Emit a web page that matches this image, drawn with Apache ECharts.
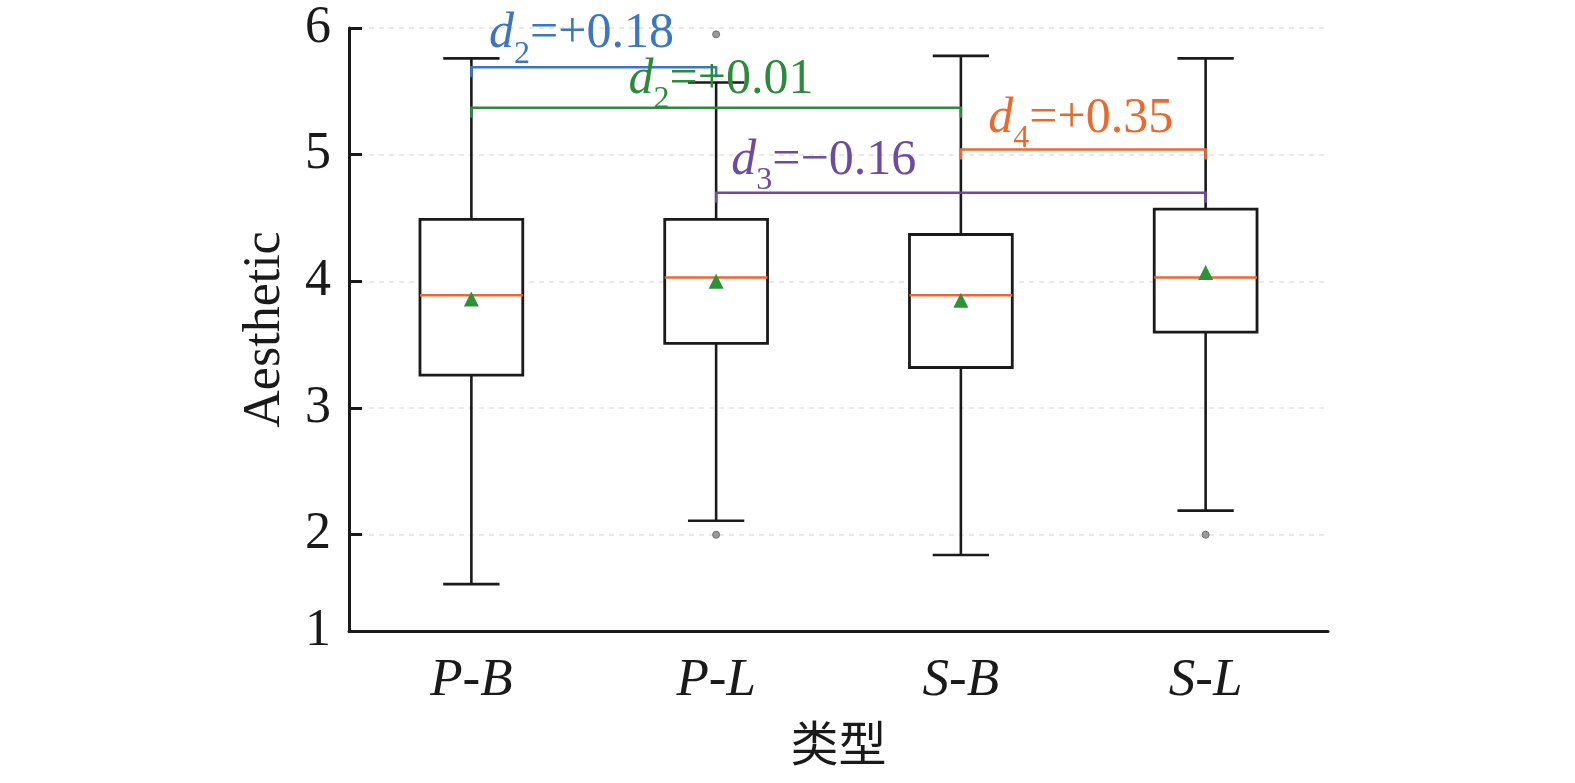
<!DOCTYPE html>
<html>
<head>
<meta charset="utf-8">
<title>Aesthetic</title>
<script src="https://cdn.jsdelivr.net/npm/echarts@6/dist/echarts.min.js"></script>
<style>
  html, body { margin: 0; padding: 0; background: #fff; }
  #chart { width: 1575px; height: 783px; }
</style>
</head>
<body>
<div id="chart"></div>
<script>
// box statistics
const categories = ['P-B', 'P-L', 'S-B', 'S-L'];
const whiskerLow = [1.61, 2.11, 1.84, 2.19];
const q1 = [3.26, 3.51, 3.32, 3.60];
const median = [3.89, 4.03, 3.89, 4.03];
const q3 = [4.49, 4.49, 4.37, 4.57];
const whiskerHigh = [5.76, 5.57, 5.78, 5.76];
const means = [3.86, 4.00, 3.85, 4.07];
const outlierCat = [1, 1, 3];
const outlierVal = [5.95, 2.00, 2.00];

// effect-size brackets
const bracketSub = ['2', '2', '3', '4'];
const bracketText = ['=+0.18', '=+0.01', '=\u22120.16', '=+0.35'];
const bracketFrom = [0, 0, 1, 2];
const bracketTo = [1, 2, 3, 3];
const bracketLevel = [5.69, 5.37, 4.70, 5.04];

const yMin = 1.24;
const yMax = 6;

const serif = 'Liberation Serif';
const bracketColors = ['#3b76c3', '#2e8a3b', '#6c4ca3', '#ea6a2e'];
const labelAnchor = [0.45, 1.02, 1.44, 2.49];
const labelDrop = [3, 8, 4, 5];

const chart = echarts.init(document.getElementById('chart'));

function lerpX(api, pos) {
    const i = Math.floor(pos);
    const a = api.coord([i, yMax])[0];
    const b = api.coord([Math.min(i + 1, categories.length - 1), yMax])[0];
    return a + (b - a) * (pos - i);
}

chart.setOption({
    backgroundColor: '#fff',
    animation: false,
    grid: {
        left: 349,
        right: 247,
        top: 28,
        bottom: 152
    },
    xAxis: {
        type: 'category',
        data: categories,
        name: '类型',
        nameLocation: 'middle',
        nameGap: 88,
        nameTextStyle: {
            fontFamily: 'Noto Sans CJK SC',
            fontSize: 48,
            color: '#1a1a1a'
        },
        axisLine: {
            lineStyle: { color: '#1a1a1a', width: 3 }
        },
        axisTick: {
            alignWithLabel: true,
            inside: true,
            length: 12,
            lineStyle: { color: '#1a1a1a', width: 3 }
        },
        axisLabel: {
            margin: 24,
            fontFamily: serif,
            fontStyle: 'italic',
            fontSize: 53,
            color: '#1a1a1a'
        }
    },
    yAxis: {
        type: 'value',
        min: yMin,
        max: yMax,
        splitNumber: 5,
        minInterval: 1,
        maxInterval: 1,
        name: 'Aesthetic',
        nameLocation: 'middle',
        nameGap: 58,
        nameTextStyle: {
            fontFamily: serif,
            fontSize: 52,
            color: '#1a1a1a'
        },
        axisLine: {
            show: true,
            lineStyle: { color: '#1a1a1a', width: 3 }
        },
        axisTick: {
            show: true,
            inside: true,
            length: 13,
            lineStyle: { color: '#1a1a1a', width: 3 }
        },
        axisLabel: {
            margin: 18,
            fontFamily: serif,
            fontSize: 52,
            color: '#1a1a1a',
            showMinLabel: true,
            formatter: function (v) { return String(Math.round(v)); }
        },
        splitLine: {
            lineStyle: { color: '#e2e2e2', type: [5, 5], width: 1.5 }
        }
    },
    series: [{
        type: 'custom',
        name: 'box',
        data: categories.map(function (c, i) {
            return [i, whiskerLow[i], q1[i], median[i], q3[i], whiskerHigh[i]];
        }),
        encode: { x: 0, y: [1, 2, 3, 4, 5] },
        renderItem: function (params, api) {
            const i = api.value(0);
            const band = api.size([1, 0])[0];
            const x = api.coord([i, 0])[0];
            const halfBox = band * 0.21;
            const halfCap = band * 0.115;
            const yLo = api.coord([i, api.value(1)])[1];
            const yQ1 = api.coord([i, api.value(2)])[1];
            const yMed = api.coord([i, api.value(3)])[1];
            const yQ3 = api.coord([i, api.value(4)])[1];
            const yHi = api.coord([i, api.value(5)])[1];
            const black = { stroke: '#1a1a1a', lineWidth: 2.6, fill: null };
            return {
                type: 'group',
                children: [
                    { type: 'line', shape: { x1: x, y1: yLo, x2: x, y2: yQ1 }, style: black },
                    { type: 'line', shape: { x1: x, y1: yQ3, x2: x, y2: yHi }, style: black },
                    { type: 'line', shape: { x1: x - halfCap, y1: yLo, x2: x + halfCap, y2: yLo }, style: black },
                    { type: 'line', shape: { x1: x - halfCap, y1: yHi, x2: x + halfCap, y2: yHi }, style: black },
                    {
                        type: 'rect',
                        shape: { x: x - halfBox, y: yQ3, width: halfBox * 2, height: yQ1 - yQ3 },
                        style: { stroke: '#1a1a1a', lineWidth: 2.8, fill: '#fff' }
                    },
                    {
                        type: 'line',
                        shape: { x1: x - halfBox, y1: yMed, x2: x + halfBox, y2: yMed },
                        style: { stroke: '#ea6a2e', lineWidth: 2.5 }
                    }
                ]
            };
        },
        z: 2
    }, {
        type: 'scatter',
        name: 'mean',
        data: means.map(function (m, i) { return [i, m]; }),
        symbol: 'triangle',
        symbolSize: 15,
        itemStyle: { color: '#2b9338', opacity: 1 },
        z: 4
    }, {
        type: 'scatter',
        name: 'outlier',
        data: outlierVal.map(function (v, i) { return [outlierCat[i], v]; }),
        symbol: 'circle',
        symbolSize: 7,
        itemStyle: { color: '#9a9a9a', borderColor: '#6f6f6f', borderWidth: 1, opacity: 1 },
        z: 4
    }, {
        type: 'custom',
        name: 'brackets',
        data: bracketLevel.map(function (lv, k) { return [bracketFrom[k], lv, bracketTo[k], k]; }),
        encode: { x: [0, 2], y: 1 },
        renderItem: function (params, api) {
            const k = api.value(3);
            const color = bracketColors[k];
            const p1 = api.coord([api.value(0), api.value(1)]);
            const p2 = api.coord([api.value(2), api.value(1)]);
            const tx = lerpX(api, labelAnchor[k]);
            return {
                type: 'group',
                children: [{
                    type: 'polyline',
                    shape: {
                        points: [[p1[0], p1[1] + 10], [p1[0], p1[1]], [p2[0], p2[1]], [p2[0], p2[1] + 10]]
                    },
                    style: { stroke: color, lineWidth: 2.5, fill: null }
                }, {
                    type: 'text',
                    x: tx,
                    y: p1[1] + labelDrop[k],
                    style: {
                        // the {z} token only stretches the line so the subscript can sit lower
                        text: '{d|d}{s|' + bracketSub[k] + '}{t|' + bracketText[k] + '}{z| }',
                        align: 'center',
                        verticalAlign: 'bottom',
                        fill: color,
                        rich: {
                            d: { fontFamily: serif, fontStyle: 'italic', fontSize: 50, lineHeight: 50, verticalAlign: 'top', fill: color },
                            s: { fontFamily: serif, fontSize: 32, lineHeight: 32, verticalAlign: 'bottom', fill: color },
                            t: { fontFamily: serif, fontSize: 50, lineHeight: 50, verticalAlign: 'top', fill: color },
                            z: { fontSize: 1, lineHeight: 61, width: 0 }
                        }
                    }
                }]
            };
        },
        z: 5
    }]
});
</script>
</body>
</html>
